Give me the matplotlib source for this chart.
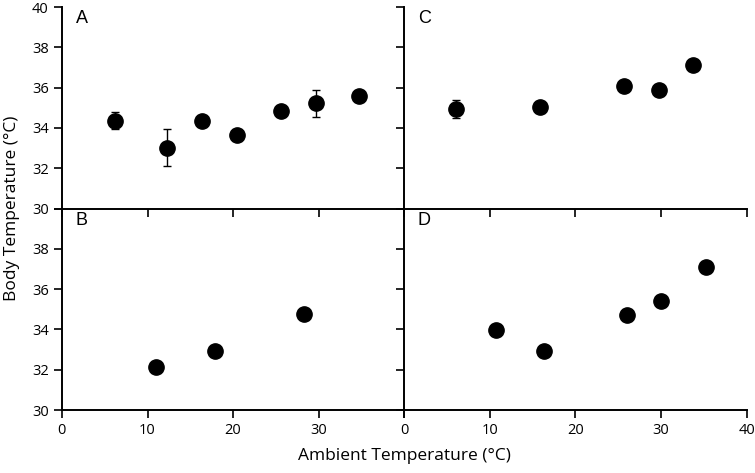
import matplotlib.pyplot as plt

# panel A (with error bars on some points)
a_x = [6.2, 12.3, 16.4, 20.4, 25.6, 29.7, 34.7]
a_y = [34.37, 33.02, 34.34, 33.63, 34.83, 35.24, 35.6]
a_err = [0.42, 0.93, 0, 0, 0, 0.67, 0]

# panel B
b_x = [11.0, 17.9, 28.3]
b_y = [32.15, 32.91, 34.77]

# panel C
c_x = [6.0, 15.9, 25.7, 29.7, 33.7]
c_y = [34.95, 35.04, 36.06, 35.9, 37.13]
c_err = [0.43, 0, 0, 0, 0]

# panel D
d_x = [10.7, 16.3, 26.0, 30.0, 35.3]
d_y = [33.97, 32.91, 34.73, 35.41, 37.09]

xticks = [0, 10, 20, 30, 40]
yticks = [30, 32, 34, 36, 38, 40]

plt.rcParams['font.family'] = ['Open Sans', 'DejaVu Sans']

fig = plt.figure(figsize=(7.55, 4.73), dpi=100)
left, right, bottom, top = 0.082, 0.989, 0.133, 0.985
w = (right - left) / 2
h = (top - bottom) / 2

axA = fig.add_axes([left, bottom + h, w, h])
axC = fig.add_axes([left + w, bottom + h, w, h])
axB = fig.add_axes([left, bottom, w, h])
axD = fig.add_axes([left + w, bottom, w, h])

panels = [
    (axA, a_x, a_y, a_err, 'A'),
    (axC, c_x, c_y, c_err, 'C'),
    (axB, b_x, b_y, None, 'B'),
    (axD, d_x, d_y, None, 'D'),
]

for ax, x, y, err, letter in panels:
    if err is not None:
        ax.errorbar(x, y, yerr=err, fmt='none', ecolor='black',
                    elinewidth=1, capsize=3, capthick=1, zorder=2)
    ax.plot(x, y, 'o', color='black', markersize=11, zorder=3)
    ax.set_xlim(0, 40)
    ax.set_ylim(30, 40)
    ax.set_xticks(xticks)
    ax.set_yticks(yticks)
    ax.spines['top'].set_visible(False)
    ax.spines['right'].set_visible(False)
    ax.spines['left'].set_linewidth(1.4)
    ax.spines['bottom'].set_linewidth(1.4)
    ax.tick_params(direction='out', length=6, width=1.2, labelsize=10.5)
    ax.patch.set_alpha(0)
    ax.text(0.04, 0.985, letter, transform=ax.transAxes, ha='left', va='top',
            fontsize=13, family='Liberation Sans')

# tick labels only on the outer edges
axA.tick_params(labelbottom=False)
axC.tick_params(labelbottom=False, labelleft=False)
axD.tick_params(labelleft=False)
axB.set_yticks(yticks)
axB.set_yticklabels(['30', '32', '34', '36', '38', ''])
axB.set_xticklabels(['0', '10', '20', '30', ''])

fig.text(0.016, (bottom + top) / 2, 'Body Temperature (°C)', rotation=90,
         ha='center', va='center', fontsize=12.5)
fig.text((left + right) / 2, 0.035, 'Ambient Temperature (°C)',
         ha='center', va='center', fontsize=12.5)

fig.savefig('out.png', dpi=100)
